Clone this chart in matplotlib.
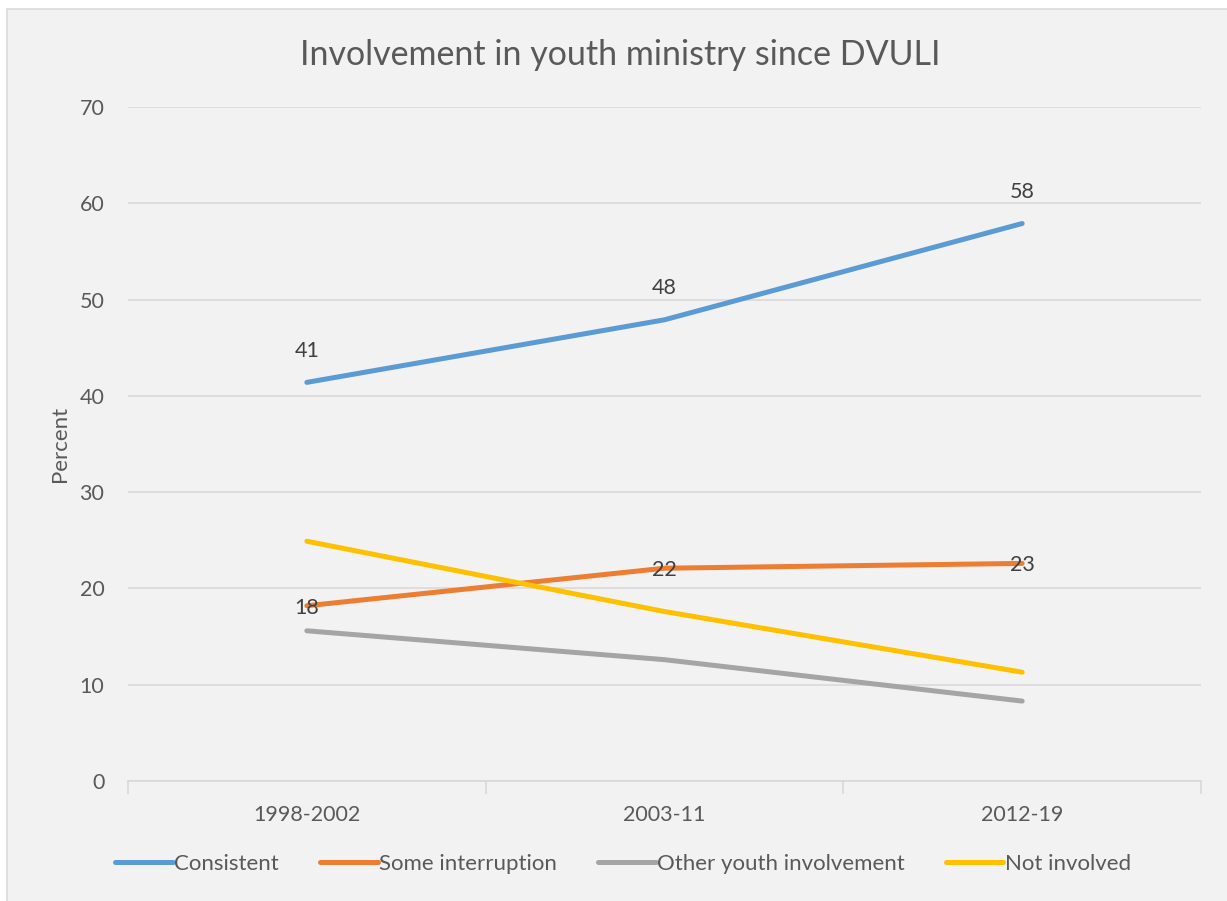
import matplotlib
matplotlib.use("Agg")
import matplotlib.pyplot as plt
from matplotlib.patches import Rectangle

plt.rcParams['font.family'] = ['Lato', 'DejaVu Sans']

periods = ["1998-2002", "2003-11", "2012-19"]
consistent = [41.4, 47.9, 57.9]
some_interruption = [18.2, 22.1, 22.6]
other_youth = [15.6, 12.6, 8.3]
not_involved = [24.9, 17.6, 11.3]

series = [
    ("Consistent", consistent, "#5b9bd5", 3.3),
    ("Some interruption", some_interruption, "#ed7d31", -0.2),
    ("Other youth involvement", other_youth, "#a5a5a5", None),
    ("Not involved", not_involved, "#ffc000", None),
]

W, H = 1227, 901
fig = plt.figure(figsize=(W / 100, H / 100), dpi=100)
fig.patch.set_facecolor("white")

# chart frame
fig.add_artist(Rectangle((7 / W, -0.01), 1.02, 1 - 8.5 / H + 0.01,
                         transform=fig.transFigure, facecolor="#f2f2f2",
                         edgecolor="#d9d9d9", linewidth=1.2, zorder=0))

ax = fig.add_axes([128 / W, 1 - 781 / H, (1201 - 128) / W, (781 - 107) / H])
ax.set_facecolor("none")

x = list(range(len(periods)))
text_col = "#595959"
for name, vals, col, offset in series:
    ax.plot(x, vals, color=col, lw=3.6, solid_capstyle="round", label=name, zorder=3)
    if offset is not None:
        for xi, v in zip(x, vals):
            ax.text(xi, v + offset, f"{round(v):d}",
                    ha="center", va="center", fontsize=15.5, color="#404040", zorder=4)

ax.set_xlim(-0.5, 2.5)
ax.set_ylim(0, 70)
ax.set_yticks(range(0, 71, 10))
ax.grid(axis="y", color="#d9d9d9", lw=1.2)
ax.set_axisbelow(True)
for s in ["top", "right", "left"]:
    ax.spines[s].set_visible(False)
ax.spines["bottom"].set_color("#d9d9d9")
ax.spines["bottom"].set_linewidth(1.2)

ax.set_xticks([-0.5, 0.5, 1.5, 2.5])
ax.set_xticklabels([])
ax.tick_params(axis="x", which="major", length=9, color="#d9d9d9", width=1.2)
ax.set_xticks(x, minor=True)
ax.set_xticklabels(periods, minor=True)
ax.tick_params(axis="x", which="minor", length=0, pad=17, labelsize=15.5, labelcolor=text_col)
ax.tick_params(axis="y", length=0, pad=17, labelsize=15.5, labelcolor=text_col)

ax.set_ylabel("Percent", fontsize=16, color=text_col, labelpad=7)

fig.text(620 / W, 1 - 55 / H, "Involvement in youth ministry since DVULI",
         ha="center", va="center", fontsize=24.5, color=text_col)

leg = fig.legend(loc="center", bbox_to_anchor=(623 / W, 1 - 864 / H), ncol=4,
                 frameon=False, fontsize=16, handlelength=2.6, handletextpad=0.05,
                 columnspacing=1.85, labelcolor=text_col)

fig.savefig("out.png", dpi=100, facecolor=fig.get_facecolor())
